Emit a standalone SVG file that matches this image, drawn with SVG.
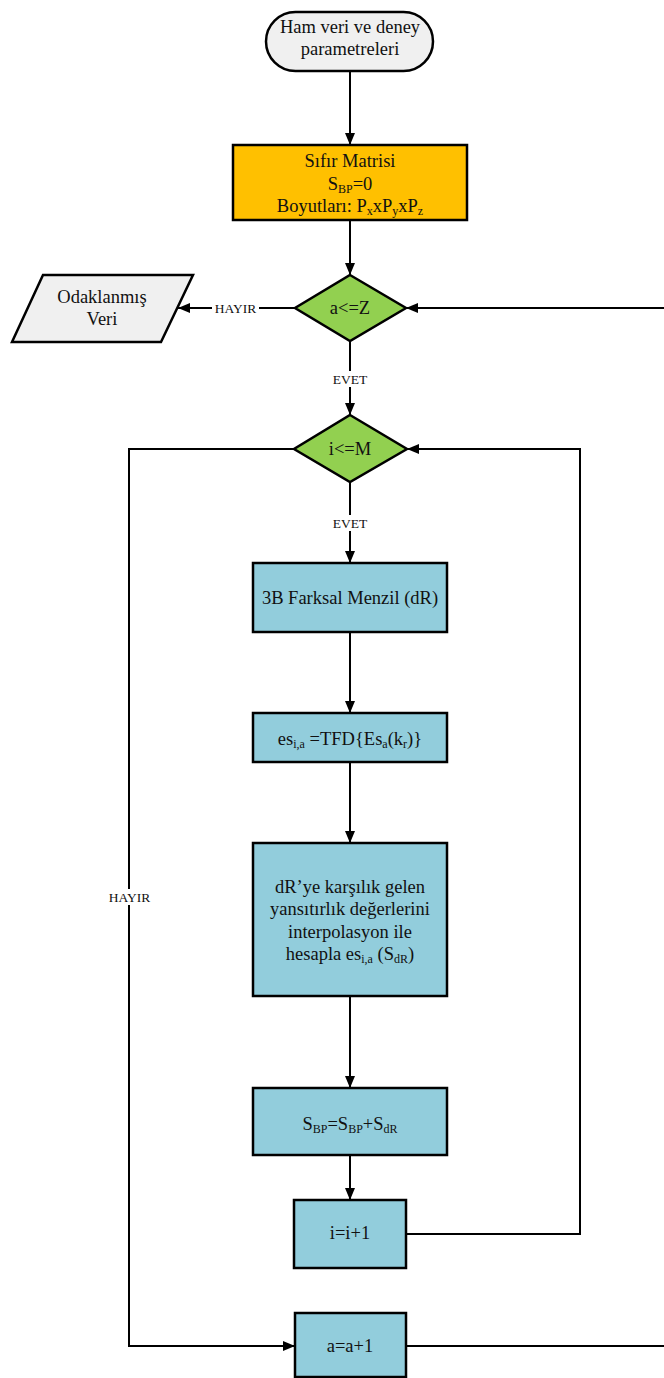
<svg xmlns="http://www.w3.org/2000/svg" width="664" height="1378" viewBox="0 0 664 1378">
<defs>
<marker id="ah" viewBox="0 0 12 10" refX="12" refY="5" markerWidth="12" markerHeight="10" markerUnits="userSpaceOnUse" orient="auto">
<path d="M0,0 L12,5 L0,10 z" fill="#000"/>
</marker>
<style>
text{font-family:"Liberation Serif","Times New Roman",serif;font-size:18.5px;fill:#111;text-anchor:middle}
.lbl{font-size:13.5px}
.sub{font-size:12px}
.shape{stroke:#000;stroke-width:2.5}
.blue{fill:#92CDDC}
.green{fill:#92D050}
.grey{fill:#F0F0F0}
.conn{fill:none;stroke:#000;stroke-width:2}
.bg{fill:#fff}
</style>
</defs>
<rect width="664" height="1378" fill="#fff"/>
<g id="connectors">
<line class="conn" x1="350" y1="71" x2="350" y2="145" marker-end="url(#ah)"/>
<line class="conn" x1="350" y1="220" x2="350" y2="275" marker-end="url(#ah)"/>
<line class="conn" x1="295" y1="308" x2="178" y2="308" marker-end="url(#ah)"/>
<line class="conn" x1="664" y1="308" x2="406" y2="308" marker-end="url(#ah)"/>
<line class="conn" x1="350" y1="341" x2="350" y2="415" marker-end="url(#ah)"/>
<line class="conn" x1="350" y1="482" x2="350" y2="563" marker-end="url(#ah)"/>
<polyline class="conn" points="294,449 129,449 129,1346 295,1346" marker-end="url(#ah)"/>
<polyline class="conn" points="406,1234 580,1234 580,449 407,449" marker-end="url(#ah)"/>
<line class="conn" x1="350" y1="632" x2="350" y2="713" marker-end="url(#ah)"/>
<line class="conn" x1="350" y1="762" x2="350" y2="843" marker-end="url(#ah)"/>
<line class="conn" x1="350" y1="996" x2="350" y2="1088" marker-end="url(#ah)"/>
<line class="conn" x1="350" y1="1155" x2="350" y2="1200" marker-end="url(#ah)"/>
<line class="conn" x1="406" y1="1346" x2="664" y2="1346"/>
<rect class="bg" x="212" y="300" width="47" height="16"/>
<text class="lbl" x="235.5" y="313">HAYIR</text>
<rect class="bg" x="332" y="371" width="37" height="16"/>
<text class="lbl" x="350" y="384">EVET</text>
<rect class="bg" x="332" y="515" width="37" height="16"/>
<text class="lbl" x="350" y="528">EVET</text>
<rect class="bg" x="106" y="889" width="47" height="16"/>
<text class="lbl" x="129.5" y="902">HAYIR</text>
</g>
<g id="start">
<rect class="shape grey" x="266" y="12" width="167" height="59" rx="29.5" ry="29.5"/>
<text x="350" y="33">Ham veri ve deney</text>
<text x="350" y="55">parametreleri</text>
</g>
<g id="zero-matrix">
<rect class="shape" fill="#FFC000" x="233" y="145" width="234" height="75"/>
<text x="350" y="167">Sıfır Matrisi</text>
<text x="350" y="190">S<tspan class="sub" dy="3">BP</tspan><tspan dy="-3">=0</tspan></text>
<text x="350" y="212">Boyutları: P<tspan class="sub" dy="3">x</tspan><tspan dy="-3">xP</tspan><tspan class="sub" dy="3">y</tspan><tspan dy="-3">xP</tspan><tspan class="sub" dy="3">z</tspan></text>
</g>
<g id="output">
<polygon class="shape grey" points="43,275 193,275 161,342 12,342"/>
<text x="102" y="303">Odaklanmış</text>
<text x="102" y="325">Veri</text>
</g>
<g id="cond-a">
<polygon class="shape green" points="350,275 406,308 350,341 295,308"/>
<text x="350" y="314">a&lt;=Z</text>
</g>
<g id="cond-i">
<polygon class="shape green" points="350,415 407,449 350,482 294,449"/>
<text x="350" y="455">i&lt;=M</text>
</g>
<g id="dR">
<rect class="shape blue" x="253" y="563" width="194" height="69"/>
<text x="350" y="604">3B Farksal Menzil (dR)</text>
</g>
<g id="tfd">
<rect class="shape blue" x="253" y="713" width="194" height="49"/>
<text x="350" y="745">es<tspan class="sub" dy="3">i,a</tspan><tspan dy="-3"> =TFD{Es</tspan><tspan class="sub" dy="3">a</tspan><tspan dy="-3">(k</tspan><tspan class="sub" dy="3">r</tspan><tspan dy="-3">)}</tspan></text>
</g>
<g id="interp">
<rect class="shape blue" x="253" y="843" width="194" height="153"/>
<text x="350" y="893">dR’ye karşılık gelen</text>
<text x="350" y="915">yansıtırlık değerlerini</text>
<text x="350" y="938">interpolasyon ile</text>
<text x="350" y="960">hesapla es<tspan class="sub" dy="3">i,a</tspan><tspan dy="-3"> (S</tspan><tspan class="sub" dy="3">dR</tspan><tspan dy="-3">)</tspan></text>
</g>
<g id="sum">
<rect class="shape blue" x="253" y="1088" width="194" height="67"/>
<text x="350" y="1130">S<tspan class="sub" dy="3">BP</tspan><tspan dy="-3">=S</tspan><tspan class="sub" dy="3">BP</tspan><tspan dy="-3">+S</tspan><tspan class="sub" dy="3">dR</tspan></text>
</g>
<g id="inc-i">
<rect class="shape blue" x="294" y="1200" width="112" height="68"/>
<text x="350" y="1239">i=i+1</text>
</g>
<g id="inc-a">
<rect class="shape blue" x="295" y="1313" width="111" height="64"/>
<text x="350" y="1352">a=a+1</text>
</g>
</svg>
